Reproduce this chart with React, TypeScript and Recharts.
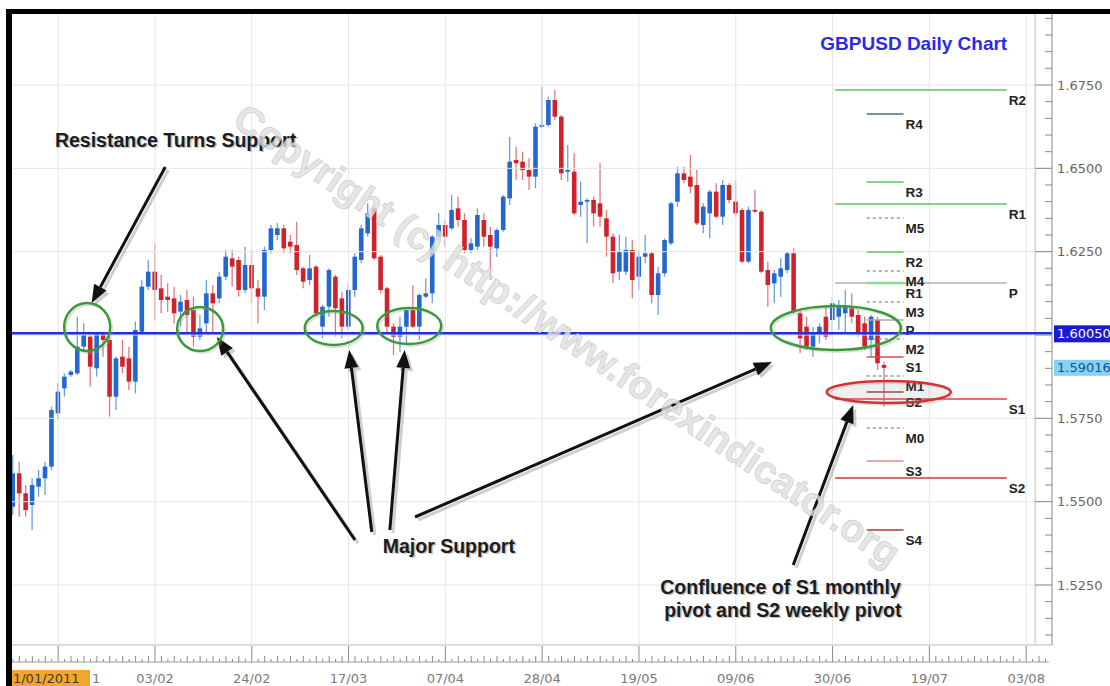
import React from "react";
import {
  ComposedChart,
  Bar,
  XAxis,
  YAxis,
  ReferenceLine,
  ReferenceDot,
} from "recharts";

// candles as [open, high, low, close], one row per trading day
type Ohlc = [number, number, number, number];

const janCandles: Ohlc[] = [
  [1.5485, 1.564, 1.546, 1.5585],
  [1.5585, 1.562, 1.5455, 1.5525],
  [1.5525, 1.555, 1.5455, 1.5475],
  [1.549, 1.557, 1.5415, 1.555],
  [1.5545, 1.5595, 1.5515, 1.557],
  [1.557, 1.562, 1.552, 1.5605],
  [1.5605, 1.5785, 1.5595, 1.5775],
  [1.5765, 1.5855, 1.5745, 1.583],
  [1.584, 1.5885, 1.5815, 1.5875],
  [1.588, 1.5895, 1.5875, 1.589],
  [1.5885, 1.6055, 1.588, 1.5965],
  [1.5965, 1.6035, 1.5955, 1.6],
  [1.5995, 1.601, 1.5845, 1.5905],
  [1.59, 1.601, 1.5875, 1.6005],
  [1.6005, 1.601, 1.5935, 1.5985],
  [1.5985, 1.5995, 1.5755, 1.5815],
  [1.5815, 1.5935, 1.5775, 1.593],
  [1.5935, 1.5985, 1.5885, 1.5905],
  [1.593, 1.5965, 1.5835, 1.586],
  [1.586, 1.604, 1.5825, 1.6015],
  [1.601, 1.6165, 1.6005, 1.6145],
  [1.6145, 1.6225, 1.6135, 1.619],
  [1.619, 1.6275, 1.6045, 1.6135],
  [1.614, 1.618, 1.6065, 1.6105],
  [1.6115, 1.6155, 1.607, 1.6105],
  [1.611, 1.6145, 1.6035, 1.6065],
  [1.607, 1.612, 1.6025, 1.61],
  [1.6105, 1.6135, 1.6005, 1.606],
];

const febCandles: Ohlc[] = [
  [1.6075, 1.6115, 1.5965, 1.5995],
  [1.5995, 1.606, 1.5985, 1.602],
  [1.6035, 1.6165, 1.6005, 1.6125],
  [1.6125, 1.615, 1.6005, 1.6095],
  [1.611, 1.619, 1.6095, 1.6175],
  [1.6175, 1.6255, 1.6165, 1.6235],
  [1.623, 1.6255, 1.6145, 1.6205],
  [1.6225, 1.6235, 1.6115, 1.6135],
  [1.6135, 1.6265, 1.6125, 1.621],
  [1.621, 1.6255, 1.6095, 1.614],
  [1.614, 1.6165, 1.6035, 1.6115],
  [1.6115, 1.6265, 1.6075, 1.6255],
  [1.6255, 1.633, 1.6245, 1.632],
  [1.63, 1.6335, 1.6285, 1.632],
  [1.632, 1.633, 1.6245, 1.626],
  [1.628, 1.63, 1.6245, 1.6265],
  [1.627, 1.634, 1.618, 1.6195],
  [1.62, 1.6205, 1.614, 1.616],
  [1.6165, 1.624, 1.615, 1.62],
  [1.6205, 1.621, 1.6055, 1.6065],
  [1.6025, 1.609, 1.599, 1.6085],
  [1.6085, 1.62, 1.6055, 1.6195],
  [1.6175, 1.618, 1.5995, 1.608],
  [1.611, 1.613, 1.599, 1.6025],
  [1.6025, 1.6155, 1.6015, 1.6135],
  [1.6135, 1.6245, 1.6115, 1.6235],
  [1.6225, 1.633, 1.6215, 1.632],
  [1.6305, 1.6395, 1.6295, 1.6365],
];

const aprCandles: Ohlc[] = [
  [1.638, 1.6385, 1.6225, 1.623],
  [1.6235, 1.624, 1.6125, 1.6135],
  [1.614, 1.6145, 1.6005, 1.6025],
  [1.6025, 1.6035, 1.594, 1.5995],
  [1.5995, 1.6055, 1.595, 1.6025],
  [1.6025, 1.6075, 1.5975, 1.6075],
  [1.6075, 1.615, 1.602, 1.6025],
  [1.6025, 1.6125, 1.5985, 1.612],
  [1.6115, 1.617, 1.611, 1.6125],
  [1.6125, 1.63, 1.6095, 1.6295],
  [1.6295, 1.6365, 1.6285, 1.633],
  [1.633, 1.6345, 1.6265, 1.6295],
  [1.632, 1.642, 1.6315, 1.6375],
  [1.638, 1.6415, 1.6325, 1.6345],
  [1.6345, 1.6365, 1.6245, 1.6255],
  [1.6255, 1.629, 1.6245, 1.6275],
  [1.6265, 1.638, 1.6255, 1.636],
  [1.6345, 1.6365, 1.6265, 1.6295],
  [1.63, 1.6325, 1.6165, 1.6265],
  [1.626, 1.632, 1.6235, 1.6315],
  [1.6315, 1.642, 1.631, 1.6415],
  [1.641, 1.6595, 1.639, 1.652],
  [1.6525, 1.6565, 1.6465, 1.6515],
  [1.652, 1.655, 1.6465, 1.6495],
  [1.6495, 1.653, 1.6435, 1.6475],
  [1.6475, 1.6635, 1.644, 1.6625],
  [1.6625, 1.6745, 1.662, 1.663],
  [1.663, 1.6715, 1.6625, 1.6705],
];

const mayCandles: Ohlc[] = [
  [1.6705, 1.6735, 1.6645, 1.6655],
  [1.6655, 1.666, 1.6465, 1.6485],
  [1.649, 1.657, 1.646, 1.6495],
  [1.649, 1.6545, 1.636, 1.6365],
  [1.639, 1.646, 1.6355, 1.64],
  [1.64, 1.641, 1.6275, 1.6405],
  [1.6405, 1.6415, 1.6325, 1.6365],
  [1.6395, 1.6515, 1.6325, 1.6355],
  [1.635, 1.6375, 1.6235, 1.6295],
  [1.6295, 1.6305, 1.6155, 1.6185],
  [1.619, 1.63, 1.6165, 1.625],
  [1.619, 1.6295, 1.618, 1.6255],
  [1.6255, 1.6285, 1.611, 1.6165],
  [1.6175, 1.6255, 1.6135, 1.6235],
  [1.6235, 1.63, 1.6215, 1.6245],
  [1.6245, 1.625, 1.6095, 1.612],
  [1.612, 1.6205, 1.606, 1.6185],
  [1.6185, 1.629, 1.6175, 1.6285],
  [1.6275, 1.64, 1.627, 1.6395],
  [1.64, 1.6505, 1.6385, 1.6485],
  [1.6485, 1.6505, 1.6455, 1.6465],
  [1.6475, 1.654, 1.6425, 1.6445],
  [1.645, 1.6495, 1.633, 1.6335],
  [1.633, 1.6395, 1.6305, 1.6385],
  [1.6365, 1.6435, 1.629, 1.643],
  [1.643, 1.6455, 1.635, 1.6355],
  [1.6355, 1.6465, 1.633, 1.645],
  [1.645, 1.6455, 1.6395, 1.6405],
];

const junCandles: Ohlc[] = [
  [1.64, 1.6465, 1.6355, 1.6365],
  [1.6375, 1.638, 1.6215, 1.622],
  [1.622, 1.6385, 1.6215, 1.6375],
  [1.6375, 1.6435, 1.6365, 1.637],
  [1.637, 1.6375, 1.6185, 1.619],
  [1.6195, 1.622, 1.6085, 1.615],
  [1.6155, 1.6195, 1.6095, 1.6185],
  [1.6175, 1.623, 1.6115, 1.62],
  [1.6195, 1.625, 1.6185, 1.6245],
  [1.6245, 1.626, 1.6065, 1.607],
  [1.6065, 1.6075, 1.5945, 1.599],
  [1.6025, 1.6055, 1.5955, 1.5965],
  [1.5965, 1.6025, 1.5935, 1.6005],
  [1.6005, 1.6035, 1.5975, 1.6025],
  [1.6055, 1.6085, 1.5985, 1.5995],
  [1.6045, 1.6115, 1.5995, 1.6095],
  [1.6055, 1.6105, 1.6015, 1.6085],
  [1.6065, 1.6135, 1.6005, 1.6085],
  [1.608, 1.6125, 1.6035, 1.6055],
  [1.606, 1.6075, 1.5995, 1.6005],
  [1.6035, 1.6055, 1.5955, 1.5965],
  [1.5985, 1.606, 1.5935, 1.6055],
  [1.6045, 1.6055, 1.5895, 1.5915],
  [1.591, 1.592, 1.5785, 1.59016],
];

const candles = [...janCandles, ...febCandles, ...aprCandles, ...mayCandles, ...junCandles].map(
  ([open, high, low, close], i) => ({ i, open, high, low, close })
);

// bottom axis: trading-day index of each labelled date
const dateTicks = [7, 22, 37, 52, 67, 82, 97, 112, 127, 142, 157];
const dateLabels = ["13/01", "03/02", "24/02", "17/03", "07/04", "28/04", "19/05", "09/06", "30/06", "19/07", "03/08"];
const gridPrices = [1.525, 1.55, 1.575, 1.6, 1.625, 1.65, 1.675];
// 1.6000 sits under the support price tag, so it carries no label
const priceLabels = [1.525, 1.55, 1.575, 1.625, 1.65, 1.675];

const supportLevel = 1.6005;
const lastPrice = 1.59016;

// monthly pivots (long lines) and weekly pivots (short lines)
const monthlyNames = ["R2", "R1", "P", "S1", "S2"];
const monthlyPrices = [1.6735, 1.6393, 1.6156, 1.5808, 1.5571];
const monthlySpan = [127.4, 154];

const weeklyNames = ["R4", "R3", "M5", "R2", "M4", "R1", "M3", "P", "M2", "S1", "M1", "S2", "M0", "S3", "S4"];
const weeklyPrices = [1.6663, 1.6459, 1.6351, 1.6249, 1.6192, 1.6156, 1.6099, 1.6045, 1.5988, 1.5934, 1.5877, 1.5829, 1.5721, 1.5622, 1.5415];
const weeklySpan = [132.3, 138];

// annotations, placed in (day index, price)
const circles = [
  { i: 11.5, p: 1.6024, rx: 23, ry: 24, red: false },
  { i: 29.0, p: 1.6018, rx: 23, ry: 22, red: false },
  { i: 49.7, p: 1.6021, rx: 29, ry: 17, red: false },
  { i: 61.4, p: 1.6027, rx: 32, ry: 18, red: false },
  { i: 127.5, p: 1.6021, rx: 65, ry: 22, red: false },
  { i: 135.7, p: 1.5829, rx: 62, ry: 11, red: true },
];

const arrows = [
  { from: [23.6, 1.6504], to: [12.2, 1.6096] },
  { from: [53.0, 1.5385], to: [31.6, 1.5994] },
  { from: [55.6, 1.5409], to: [52.1, 1.5955] },
  { from: [58.4, 1.5415], to: [60.7, 1.5955] },
  { from: [62.3, 1.5454], to: [117.6, 1.5919] },
  { from: [120.9, 1.531], to: [130.2, 1.579] },
];

const notes = [
  { i: 6.5, p: 1.6585, text: "Resistance Turns Support" },
  { i: 57.3, p: 1.5367, text: "Major Support" },
  { i: 100.3, p: 1.5244, text: "Confluence of S1 monthly" },
  { i: 100.9, p: 1.5175, text: "pivot and S2 weekly pivot" },
];

const title = { i: 125.1, p: 1.6876, text: "GBPUSD Daily Chart" };
const watermark = { i: 85.9, p: 1.6, text: "Copyright (c) http://www.forexindicator.org" };

const X_DOMAIN: [number, number] = [-0.15, 161];
const Y_DOMAIN: [number, number] = [1.507, 1.6963];

const dayTicks = Array.from({ length: 161 }, (_, k) => k);
const priceTicks = Array.from({ length: 38 }, (_, k) => Math.round((1.51 + k * 0.005) * 10000) / 10000);

const pivotColor: Record<string, string> = {
  R4: "#2f7f5f",
  R3: "#5cc65c",
  R2: "#5cc65c",
  R1: "#8fdc8f",
  P: "#a8a8a8",
  S1: "#de4a4a",
  S2: "#8a4c4c",
  S3: "#e58a8a",
  S4: "#b03838",
};
const monthlyColor: Record<string, string> = {
  R2: "#5cc65c",
  R1: "#5cc65c",
  P: "#b0b0b0",
  S1: "#d84545",
  S2: "#cc3a3a",
};

const labelFont = "'Liberation Sans', Arial, sans-serif";
const axisFont = "'DejaVu Sans', Verdana, sans-serif";

function Candle(props: any) {
  const { x, y, width, height, payload } = props;
  if (!payload || height == null) return null;
  const { open, high, low, close } = payload;
  const top = Math.min(y, y + height);
  const span = Math.abs(height);
  const k = span / Math.max(high - low, 1e-9);
  const py = (v: number) => top + (high - v) * k;
  const cx = x + width / 2;
  const up = close >= open;
  const b1 = py(Math.max(open, close));
  const b2 = py(Math.min(open, close));
  return (
    <g>
      <line x1={cx} x2={cx} y1={top} y2={top + span} stroke={up ? "#6d9de3" : "#e27a7a"} strokeWidth={1.3} />
      <rect x={cx - 2.3} y={b1} width={4.6} height={Math.max(b2 - b1, 1.3)} fill={up ? "#2368cf" : "#d1222b"} />
    </g>
  );
}

function DateTick({ x, y, payload }: any) {
  const i = payload.value;
  const k = dateTicks.indexOf(i);
  const base = y + 17;
  const len = k >= 0 ? 16 : i % 2 ? 6 : 3;
  return (
    <g>
      <line x1={x - 3.3} x2={x + 3.3} y1={base} y2={base} stroke="#9a9a9a" />
      <line x1={x} x2={x} y1={base - len} y2={base} stroke="#8a8a8a" />
      {k > 0 && (
        <text x={x} y={base + 21} textAnchor="middle" fontFamily={axisFont} fontSize={13} fill="#7a7a7a">
          {dateLabels[k]}
        </text>
      )}
      {i === 0 && (
        <g>
          <rect x={x - 1} y={base + 8} width={78} height={18} fill="#f4a52c" />
          <text x={x} y={base + 21} fontFamily={axisFont} fontSize={13} fill="#3a3a3a">
            1/01/2011
          </text>
          <text x={x + 79} y={base + 21} fontFamily={axisFont} fontSize={13} fill="#7a7a7a">
            1
          </text>
        </g>
      )}
    </g>
  );
}

function PriceTick({ x, y, payload }: any) {
  const v = payload.value;
  const major = Math.abs(v * 40 - Math.round(v * 40)) < 1e-6;
  return (
    <g>
      <line x1={x - (major ? 17 : 7)} x2={x} y1={y} y2={y} stroke="#8a8a8a" />
      {major && priceLabels.some((p) => Math.abs(p - v) < 1e-6) && (
        <text x={x + 5} y={y} dy="0.35em" fontFamily={axisFont} fontSize={13} fill="#666">
          {v.toFixed(4)}
        </text>
      )}
    </g>
  );
}

function pivotShape(name: string, color: string, dashed: boolean, thick: boolean) {
  return (props: any) => {
    const { x1, y1, x2 } = props;
    const right = Math.max(x1, x2);
    return (
      <g>
        <line
          x1={x1}
          x2={x2}
          y1={y1}
          y2={y1}
          stroke={color}
          strokeWidth={thick ? 2.5 : 1.3}
          strokeDasharray={dashed ? "3 3" : undefined}
        />
        <text x={right + 2} y={y1 + 10.5} dy="0.35em" fontFamily={labelFont} fontWeight="bold" fontSize={13.5} fill="#222">
          {name}
        </text>
      </g>
    );
  };
}

function supportShape(props: any) {
  const { x1, y1, x2 } = props;
  const right = Math.max(x1, x2);
  return (
    <g>
      <line x1={x1} x2={x2} y1={y1} y2={y1} stroke="#1f2fe0" strokeWidth={2.5} />
      <rect x={right + 2} y={y1 - 8} width={60} height={17} fill="#1a1ad0" />
      <text x={right + 5} y={y1} dy="0.35em" fontFamily={axisFont} fontSize={13} fill="#fff">
        {supportLevel.toFixed(5)}
      </text>
    </g>
  );
}

function lastShape(props: any) {
  const { x1, y1, x2 } = props;
  const right = Math.max(x1, x2);
  return (
    <g>
      <rect x={right + 2} y={y1 - 8} width={60} height={16} fill="#86d2f4" />
      <text x={right + 5} y={y1} dy="0.35em" fontFamily={axisFont} fontSize={13} fill="#1b4f8f">
        {lastPrice.toFixed(5)}
      </text>
    </g>
  );
}

function arrowShape(props: any) {
  const { x1, y1, x2, y2 } = props;
  const a = Math.atan2(y2 - y1, x2 - x1);
  const L = 18;
  const W = 7;
  const bx = x2 - L * Math.cos(a);
  const by = y2 - L * Math.sin(a);
  const px = -Math.sin(a) * W;
  const py = Math.cos(a) * W;
  return (
    <g>
      <line x1={x1 + 3} y1={y1 + 3} x2={bx + 3} y2={by + 3} stroke="#888" strokeWidth={3} opacity={0.4} />
      <polygon
        points={`${x2 + 3},${y2 + 3} ${bx + px + 3},${by + py + 3} ${bx - px + 3},${by - py + 3}`}
        fill="#888"
        opacity={0.4}
      />
      <line x1={x1} y1={y1} x2={bx} y2={by} stroke="#111" strokeWidth={3} />
      <polygon points={`${x2},${y2} ${bx + px},${by + py} ${bx - px},${by - py}`} fill="#111" />
    </g>
  );
}

function ellipseShape(rx: number, ry: number, red: boolean) {
  return (props: any) => (
    <g>
      <ellipse cx={props.cx + 2} cy={props.cy + 2} rx={rx} ry={ry} fill="none" stroke="#999" strokeWidth={2} opacity={0.3} />
      <ellipse
        cx={props.cx}
        cy={props.cy}
        rx={rx}
        ry={ry}
        fill={red ? "rgba(120,120,120,0.12)" : "none"}
        stroke={red ? "#d23232" : "#3a9a3a"}
        strokeWidth={2.5}
      />
    </g>
  );
}

function noteShape(text: string) {
  return (props: any) => (
    <g fontFamily={labelFont} fontWeight="bold" fontSize={19.5}>
      <text x={props.cx + 1.5} y={props.cy + 1.5} dy="0.35em" fill="#999" opacity={0.6}>
        {text}
      </text>
      <text x={props.cx} y={props.cy} dy="0.35em" fill="#1c1c1c">
        {text}
      </text>
    </g>
  );
}

function titleShape(props: any) {
  return (
    <text x={props.cx} y={props.cy} dy="0.35em" fontFamily={labelFont} fontWeight="bold" fontSize={19} fill="#2b2be4">
      {title.text}
    </text>
  );
}

function watermarkShape(props: any) {
  return (
    <text
      x={props.cx}
      y={props.cy}
      dy="0.35em"
      textAnchor="middle"
      transform={`rotate(34 ${props.cx} ${props.cy})`}
      fontFamily={labelFont}
      fontWeight="bold"
      fontSize={39}
      fill="#e0e0e0"
      fillOpacity={0.8}
      stroke="#c8c8c8"
      strokeWidth={0.6}
    >
      {watermark.text}
    </text>
  );
}

export default function App() {
  return (
    <div style={{ position: "absolute", left: 0, top: 0, width: 1110, height: 686, background: "#fff", overflow: "hidden" }}>
      <ComposedChart width={1110} height={686} data={candles} margin={{ top: 14, right: 0, left: 12, bottom: 0 }}>
        <XAxis
          dataKey="i"
          type="number"
          domain={X_DOMAIN}
          allowDataOverflow
          ticks={dayTicks}
          interval={0}
          height={41}
          tickSize={0}
          tickMargin={0}
          tickLine={false}
          axisLine={{ stroke: "#dcdcdc", strokeWidth: 2 }}
          tick={<DateTick />}
        />
        <YAxis
          orientation="right"
          type="number"
          domain={Y_DOMAIN}
          allowDataOverflow
          ticks={priceTicks}
          interval={0}
          width={58}
          tickSize={0}
          tickMargin={0}
          tickLine={false}
          axisLine={{ stroke: "#8a8a8a" }}
          tick={<PriceTick />}
        />
        {gridPrices.map((p) => (
          <ReferenceLine key={`h${p}`} y={p} stroke="#e6e6e6" />
        ))}
        {dateTicks.map((d) => (
          <ReferenceLine key={`v${d}`} x={d} stroke="#e6e6e6" />
        ))}
        <ReferenceLine x={158.4} stroke="#dcdcdc" strokeWidth={2} />
        <Bar dataKey={(d: any) => [d.low, d.high]} barSize={6} shape={<Candle />} isAnimationActive={false} />
        {monthlyNames.map((n, k) => (
          <ReferenceLine
            key={`m${n}`}
            segment={[
              { x: monthlySpan[0], y: monthlyPrices[k] },
              { x: monthlySpan[1], y: monthlyPrices[k] },
            ]}
            shape={pivotShape(n, monthlyColor[n], false, false)}
          />
        ))}
        {weeklyNames.map((n, k) => (
          <ReferenceLine
            key={`w${n}`}
            segment={[
              { x: weeklySpan[0], y: weeklyPrices[k] },
              { x: weeklySpan[1], y: weeklyPrices[k] },
            ]}
            shape={pivotShape(n, n.startsWith("M") ? "#9a9a9a" : pivotColor[n], n.startsWith("M"), n === "R1")}
          />
        ))}
        <ReferenceLine y={supportLevel} shape={supportShape} />
        <ReferenceLine y={lastPrice} shape={lastShape} />
        {circles.map((c, k) => (
          <ReferenceDot key={`c${k}`} x={c.i} y={c.p} shape={ellipseShape(c.rx, c.ry, c.red)} />
        ))}
        {arrows.map((a, k) => (
          <ReferenceLine
            key={`a${k}`}
            segment={[
              { x: a.from[0], y: a.from[1] },
              { x: a.to[0], y: a.to[1] },
            ]}
            shape={arrowShape}
          />
        ))}
        {notes.map((n) => (
          <ReferenceDot key={n.text} x={n.i} y={n.p} shape={noteShape(n.text)} />
        ))}
        <ReferenceDot x={title.i} y={title.p} shape={titleShape} />
        <ReferenceDot x={watermark.i} y={watermark.p} shape={watermarkShape} />
      </ComposedChart>
      <div style={{ position: "absolute", left: 6, top: 9, width: 1104, height: 5, background: "#000" }} />
      <div style={{ position: "absolute", left: 6, top: 9, width: 6, height: 677, background: "#000" }} />
    </div>
  );
}
